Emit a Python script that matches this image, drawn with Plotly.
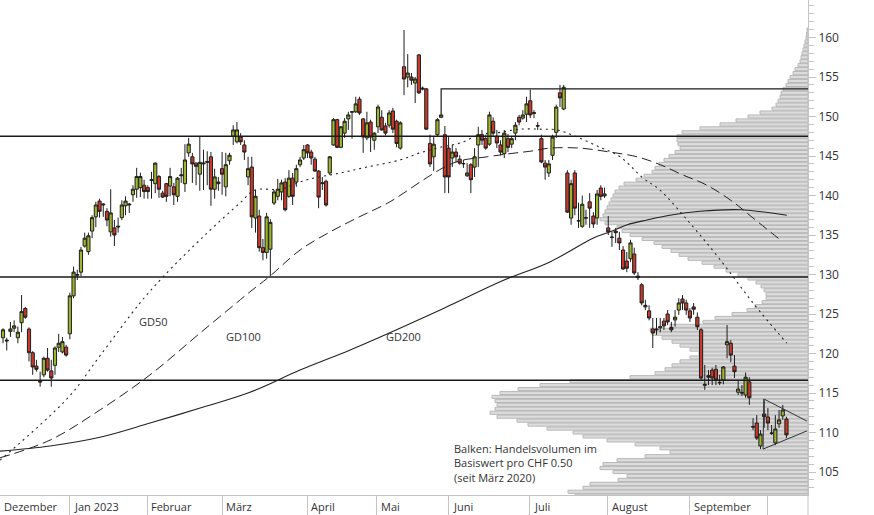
import plotly.graph_objects as go

# ---------------- data ----------------
opens = [122.0,121.7,122.8,123.2,122.0,123.9,125.7,123.1,120.1,118.4,116.5,117.3,119.4,117.8,118.5,120.8,120.2,120.8,122.5,127.3,
         129.9,130.3,133.6,132.9,135.5,137.3,139.3,138.8,138.0,135.4,135.9,136.0,137.2,138.7,138.8,140.1,140.8,141.0,141.3,141.0,
         141.9,141.5,142.4,140.3,141.5,141.2,141.1,139.9,142.5,141.5,145.4,144.9,144.1,142.7,144.0,144.2,144.9,140.8,141.5,143.4,
         141.1,144.4,147.5,146.8,147.4,146.4,142.35,143.6,137.15,137.4,133.4,132.8,133.2,139.05,139.9,140.45,141.7,139.9,142.2,141.7,
         143.9,144.75,146.4,145.5,144.6,143.1,141.5,141.8,142.85,146.4,149.6,146.1,147.9,149.7,150.55,150.6,152.2,149.7,147.3,149.3,
         147.0,148.7,149.9,148.8,148.9,150.7,149.4,146.0,156.3,155.0,155.0,154.25,157.8,153.6,153.5,146.6,144.9,147.7,149.9,147.7,
         146.0,144.75,145.5,144.6,144.0,142.5,143.9,143.6,146.4,147.7,147.2,146.5,149.4,147.5,146.4,145.3,147.2,146.5,147.9,149.9,
         149.8,150.3,152.0,150.5,148.85,147.2,144.1,142.85,145.1,148.0,153.0,150.95,142.85,137.15,142.85,136.8,136.1,137.2,139.2,137.4,
         137.15,140.95,139.95,135.9,134.75,135.5,134.6,133.1,131.7,132.0,132.6,129.8,128.7,125.9,125.4,123.1,123.1,123.25,124.1,125.0,
         123.3,124.25,125.5,126.9,126.4,125.4,125.9,124.6,123.0,116.1,117.2,117.9,118.0,116.35,116.65,121.1,121.3,118.4,115.1,115.05,
         114.75,116.4,110.75,111.2,108.3,112.35,111.97,109.95,108.7,111.1,112.1,111.7]
highs = [123.2,122.0,124.0,124.2,123.4,127.4,125.9,123.3,120.3,119.2,117.7,119.6,120.7,119.2,120.9,122.5,122.1,121.1,127.7,131.0,
         130.6,133.5,135.3,135.3,137.5,139.2,139.6,139.05,138.4,140.8,136.9,137.2,139.4,139.9,139.05,141.3,143.5,142.9,142.0,141.3,
         143.0,144.2,142.6,140.6,141.6,143.5,141.6,142.35,143.5,146.5,147.3,145.4,144.2,147.5,145.8,145.6,145.5,143.4,142.35,145.5,
         145.4,145.4,148.9,149.3,147.9,147.0,144.9,144.9,140.7,138.2,134.5,137.8,137.0,140.7,142.1,142.0,142.2,143.2,142.85,143.9,
         144.9,146.4,146.5,145.8,144.9,143.2,142.35,142.0,145.0,149.8,149.7,148.8,149.8,150.6,150.7,152.5,152.5,149.8,150.6,149.6,
         148.0,151.5,150.8,149.2,150.8,151.1,149.6,149.4,160.95,157.9,155.5,155.0,157.9,153.8,153.6,147.7,147.4,149.8,150.3,148.8,
         147.4,146.4,146.0,145.1,144.5,144.1,144.1,146.0,148.7,148.3,147.7,150.6,149.9,148.3,147.0,148.3,147.8,147.4,149.3,150.2,
         150.8,152.5,153.4,150.8,149.3,147.7,144.5,144.5,147.7,151.5,154.0,154.0,143.2,142.0,143.2,139.1,140.0,138.2,140.3,137.9,
         140.7,141.3,141.0,137.4,135.4,135.9,135.4,133.6,132.85,134.4,133.4,130.3,128.9,126.8,126.1,124.5,124.5,124.5,124.5,125.5,
         124.0,125.5,127.0,127.4,126.8,125.75,126.4,125.2,123.2,118.55,117.9,118.2,118.55,117.3,118.4,123.6,121.7,119.8,116.65,116.0,
         117.6,117.0,111.8,112.2,110.3,114.1,113.1,110.95,112.2,112.85,113.5,112.0]
lows = [121.3,120.4,122.1,122.7,121.3,122.7,124.4,119.0,117.3,117.7,115.8,117.0,117.7,115.8,117.3,120.2,120.0,119.6,121.8,127.0,
        129.3,129.8,133.4,132.5,134.6,136.0,137.2,137.3,136.1,134.8,133.6,135.3,136.9,137.5,137.8,139.2,139.7,139.8,139.6,139.6,
        139.6,140.3,139.7,139.7,139.2,139.9,138.8,139.2,141.6,140.45,144.9,141.6,141.3,140.6,140.7,141.3,138.7,139.6,140.6,140.1,
        139.9,143.9,146.4,146.6,146.4,144.5,141.3,135.9,135.3,132.9,131.8,132.0,129.8,138.8,139.4,139.4,138.0,139.7,138.8,141.1,
        143.6,144.5,144.75,143.9,143.0,138.4,140.7,138.6,142.6,146.3,146.0,146.0,147.3,148.3,147.2,150.45,150.2,145.4,147.0,145.5,
        145.8,147.9,148.2,147.6,148.6,147.9,146.1,145.8,152.7,153.7,154.0,151.7,152.85,153.3,148.3,143.6,143.1,147.4,149.8,140.3,
        140.3,143.6,144.2,143.9,143.5,142.35,140.3,142.35,143.6,146.4,145.8,146.3,147.4,146.0,145.1,144.75,145.5,146.0,147.0,148.9,
        149.6,149.3,149.8,149.8,148.3,144.1,142.0,142.35,144.5,147.3,151.2,150.8,137.8,136.3,137.5,135.9,135.9,136.3,135.9,135.9,
        136.3,139.4,139.7,135.0,133.5,134.0,133.1,130.6,130.3,131.6,129.94,129.3,126.1,125.5,124.2,120.7,122.35,122.7,122.98,123.6,
        122.7,123.4,124.9,125.5,124.9,124.0,124.9,122.98,116.65,115.4,116.0,116.0,116.0,116.0,116.1,119.4,118.9,116.9,114.75,114.6,
        114.4,113.5,110.3,109.05,107.9,110.6,110.3,109.7,108.4,110.6,111.6,109.3]
closes = [123.0,121.6,123.1,123.5,122.7,125.3,124.6,120.1,118.3,118.0,116.4,119.4,117.9,116.9,120.7,121.3,121.5,119.8,127.3,130.3,
          130.0,133.1,134.6,134.9,137.2,138.8,138.0,138.9,136.9,137.8,135.0,136.1,138.8,139.3,138.9,140.8,142.4,142.4,140.5,140.5,
          142.0,144.1,140.8,139.8,139.9,142.4,140.1,142.2,142.6,144.5,146.5,144.0,143.7,144.2,144.1,144.3,140.8,142.35,141.7,142.7,
          143.9,145.1,148.3,148.3,146.8,145.5,143.4,137.3,139.9,133.4,132.8,137.3,136.6,140.45,140.8,141.6,138.2,142.2,139.9,143.4,
          144.5,145.8,145.4,144.75,143.1,139.8,141.6,138.8,144.9,149.6,146.1,148.7,149.4,150.2,150.6,151.6,150.45,147.4,149.2,147.4,
          147.9,151.2,148.3,147.9,150.45,148.4,146.6,149.2,154.75,155.5,154.6,154.75,153.0,153.5,148.4,144.0,146.5,149.6,150.2,142.35,
          142.35,145.5,144.9,144.1,144.05,142.85,142.0,144.9,147.7,147.0,146.0,150.2,147.9,146.65,145.5,147.9,146.1,147.2,148.9,149.3,
          150.2,151.6,150.2,150.4,148.8,144.25,143.6,144.0,147.4,151.2,152.35,153.7,137.9,141.5,138.4,136.8,138.9,137.15,138.4,136.4,
          140.2,139.9,140.2,135.4,134.7,135.3,134.0,130.7,130.8,134.0,130.2,129.6,126.4,126.1,124.5,122.6,123.0,123.4,123.5,124.0,
          123.0,124.6,126.4,126.4,125.5,124.5,125.6,123.4,116.9,116.0,117.0,116.9,116.65,116.3,118.3,121.5,119.8,117.7,115.5,115.0,
          117.0,114.4,110.7,109.3,109.8,112.0,111.2,109.9,110.45,111.6,112.85,109.7]
days = list(range(len(opens)))

# moving averages (trading-day index, value)
gd50_day = [-0.8, 17.5, 26.1, 36.9, 43.1, 54.4, 63.8, 67.9, 74.6, 81.9, 90.8, 98.0, 106.9, 112.3, 117.7, 123.1, 128.5,
            133.9, 139.2, 144.6, 149.2, 154.1, 160.8, 166.2, 172.4, 176.9, 185.0, 192.6, 202.0, 211.1]
gd50_val = [106.5, 114.4, 119.7, 126.4, 129.7, 135.0, 139.05, 140.7, 140.8, 142.0, 142.85, 143.6, 144.5, 145.4, 146.1, 146.65,
            147.7, 148.0, 148.4, 148.4, 148.3, 147.5, 146.1, 144.9, 142.2, 140.7, 136.5, 132.2, 126.4, 121.3]
gd100_day = [-0.8, 12.7, 26.1, 39.6, 53.1, 66.5, 71.9, 80.0, 88.1, 95.3, 104.2, 112.3, 118.5, 123.1, 130.4, 136.5, 141.9,
             147.3, 155.4, 163.5, 170.8, 177.0, 183.1, 189.6, 196.6, 202.0, 209.3]
gd100_val = [106.8, 109.05, 112.85, 117.3, 122.6, 127.8, 129.8, 133.1, 135.4, 137.15, 139.2, 141.7, 143.5, 144.4, 144.9,
             145.3, 145.6, 146.0, 146.0, 145.5, 144.9, 143.9, 142.6, 141.3, 139.2, 137.15, 134.4]
gd200_day = [-0.8, 12.7, 26.1, 39.6, 53.1, 66.5, 80.0, 93.5, 106.9, 120.4, 133.9, 147.3, 158.9, 163.5, 168.1, 173.4, 179.6,
             187.7, 198.5, 211.1]
gd200_val = [107.65, 108.3, 109.4, 111.2, 113.1, 115.1, 117.9, 120.45, 123.2, 126.1, 129.1, 131.6, 134.6, 135.4, 136.3,
             136.9, 137.5, 138.0, 138.2, 137.5]

# volume profile: traded volume per CHF 0.50 price bin (relative units), from 102.0 upward
vol_profile = [233, 240, 225, 218, 190, 181, 195, 208, 205, 191, 163, 138, 148, 173, 201, 225, 235, 261, 280, 291,
               311, 318, 313, 311, 313, 316, 308, 290, 268, 238, 178, 153, 143, 136, 128, 118, 109, 118, 128, 136,
               146, 156, 158, 138, 105, 93, 76, 61, 53, 46, 42, 42, 44, 47, 52, 60, 70, 82, 94, 106,
               120, 129, 137, 146, 154, 166, 178, 186, 191, 203, 208, 205, 203, 201, 199, 197, 195, 193, 189, 184,
               172, 164, 156, 153, 149, 144, 139, 133, 128, 130, 131, 131, 126, 108, 88, 72, 60, 48, 36, 32,
               30, 28, 27, 25, 22, 20, 18, 15, 13, 10, 8, 7, 6, 5, 4, 3, 2, 1.5, 1]
vol_price = [102.0 + 0.5 * i for i in range(len(vol_profile))]

# horizontal support / resistance levels and chart pattern
support_levels = [147.5, 129.7, 116.6]
resist_day = [118, 118, 216.8]
resist_val = [150.3, 153.5, 153.5]
triangle_day = [216.5, 204.9, 204.7, 216.5]
triangle_val = [111.45, 114.25, 107.9, 110.2]

month_labels = ["Dezember", "Jan 2023", "Februar", "März", "April", "Mai", "Juni", "Juli", "August", "September"]
month_bounds = [18.0, 38.8, 59.0, 81.9, 100.7, 120.1, 141.9, 162.9, 185.0, 206.0]

X_MIN, X_MAX = -0.81, 216.8
Y_MIN, Y_MAX = 102.09, 164.75
FONT = "Open Sans"
TXT = "#333333"
AX = "#c4c4c4"

fig = go.Figure()

# volume profile (base axis x, reversed so bars grow from the right edge)
fig.add_trace(go.Bar(
    y=vol_price, x=vol_profile, orientation="h", xaxis="x", yaxis="y",
    width=0.4, marker=dict(color="#dcdcdc", line=dict(color="#b8b8b8", width=1)),
    hoverinfo="skip", showlegend=False))

# support lines
for lvl in support_levels:
    fig.add_trace(go.Scatter(x=[X_MIN, X_MAX], y=[lvl, lvl], mode="lines", xaxis="x2", yaxis="y",
                             line=dict(color="#1a1a1a", width=1.5), hoverinfo="skip", showlegend=False))
fig.add_trace(go.Scatter(x=resist_day, y=resist_val, mode="lines", xaxis="x2", yaxis="y",
                         line=dict(color="#1a1a1a", width=1.2), hoverinfo="skip", showlegend=False))
fig.add_trace(go.Scatter(x=triangle_day, y=triangle_val, mode="lines", xaxis="x2", yaxis="y",
                         line=dict(color="#333333", width=1), hoverinfo="skip", showlegend=False))

# moving averages
fig.add_trace(go.Scatter(x=gd50_day, y=gd50_val, mode="lines", xaxis="x2", yaxis="y", line_shape="spline",
                         line=dict(color="#222222", width=1.1, dash="2px,4px"), hoverinfo="skip", showlegend=False))
fig.add_trace(go.Scatter(x=gd100_day, y=gd100_val, mode="lines", xaxis="x2", yaxis="y", line_shape="spline",
                         line=dict(color="#222222", width=1, dash="10px,5px"), hoverinfo="skip", showlegend=False))
fig.add_trace(go.Scatter(x=gd200_day, y=gd200_val, mode="lines", xaxis="x2", yaxis="y", line_shape="spline",
                         line=dict(color="#222222", width=1.1), hoverinfo="skip", showlegend=False))

# candles
fig.add_trace(go.Candlestick(
    x=days, open=opens, high=highs, low=lows, close=closes, xaxis="x2", yaxis="y",
    increasing=dict(fillcolor="#9db52f", line=dict(color="#1e1e1e", width=1)),
    decreasing=dict(fillcolor="#c8392b", line=dict(color="#1e1e1e", width=1)),
    whiskerwidth=0, hoverinfo="skip", showlegend=False))

annotations = []
starts = [X_MIN] + month_bounds[:-1]
for lab, st in zip(month_labels, starts):
    annotations.append(dict(x=st, xref="x2", y=-12 / 495, yref="paper", text=lab, showarrow=False,
                            xanchor="left", yanchor="middle", xshift=2,
                            font=dict(family=FONT, size=11, color=TXT)))
for txt, px, py in [("GD50", 137, 321), ("GD100", 224, 336), ("GD200", 384, 336)]:
    annotations.append(dict(x=px / 808, xref="paper", y=1 - py / 495, yref="paper", text=txt, showarrow=False,
                            xanchor="left", yanchor="middle", font=dict(family=FONT, size=11, color=TXT)))
annotations.append(dict(x=452 / 808, xref="paper", y=1 - 463 / 495, yref="paper",
                        text="Balken: Handelsvolumen im<br>Basiswert pro CHF 0.50<br>(seit März 2020)",
                        showarrow=False, align="left", xanchor="left", yanchor="middle",
                        font=dict(family=FONT, size=11, color=TXT)))

shapes = [dict(type="line", xref="paper", yref="paper", x0=1, x1=1, y0=-20 / 495, y1=0,
               line=dict(color=AX, width=1))]

fig.update_layout(
    width=874, height=515,
    margin=dict(l=0, r=66, t=0, b=20),
    paper_bgcolor="white", plot_bgcolor="white",
    showlegend=False, boxgap=0.1, boxgroupgap=0.05,
    xaxis=dict(range=[808, 0], visible=False, fixedrange=True, rangeslider=dict(visible=False)),
    xaxis2=dict(overlaying="x", anchor="y", side="bottom", range=[X_MIN, X_MAX],
                showgrid=False, zeroline=False, showline=True, linecolor=AX, linewidth=1,
                ticks="outside", ticklen=20, tickcolor=AX, tickwidth=1,
                tickmode="array", tickvals=month_bounds, showticklabels=False,
                rangeslider=dict(visible=False)),
    yaxis=dict(side="right", range=[Y_MIN, Y_MAX], showgrid=False, zeroline=False,
               showline=True, linecolor=AX, linewidth=1,
               ticks="outside", ticklen=7, tickcolor=AX, tick0=0, dtick=5,
               minor=dict(ticks="outside", ticklen=5, dtick=1, tickcolor=AX, showgrid=False),
               tickfont=dict(family=FONT, size=12, color=TXT)),
    annotations=annotations,
    shapes=shapes,
)

fig.write_html("out.html")
